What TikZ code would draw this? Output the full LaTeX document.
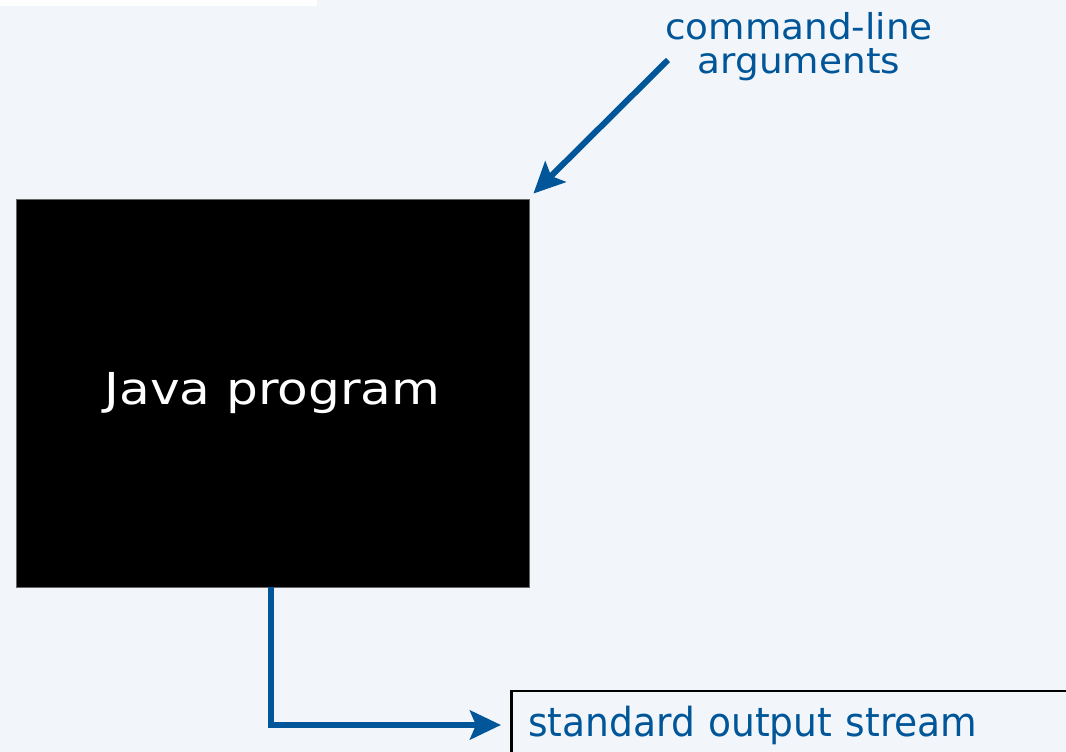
\documentclass[tikz,border=0pt]{standalone}
\usepackage{fontspec}
\usetikzlibrary{arrows.meta,positioning}
\newfontfamily\fjava[FakeStretch=1.14]{DejaVu Sans}
\newfontfamily\fargs[FakeStretch=1.05]{DejaVu Sans}
\newfontfamily\fout[FakeStretch=0.94]{DejaVu Sans}
\definecolor{bgc}{RGB}{242,246,250}
\definecolor{bluec}{RGB}{0,86,152}
\tikzset{
  arr/.style={draw=bluec, line width=6pt, -{Stealth[length=31pt,width=29pt,inset=6pt]}},
  progbox/.style={rectangle, fill=black, draw=black!60, line width=0.8pt,
    minimum width=513pt, minimum height=388pt, inner sep=0pt, text=white,
    font=\fjava\fontsize{44}{52}\selectfont},
  lbl/.style={inner sep=0pt, text=bluec, align=center,
    font=\fargs\fontsize{35.6}{34}\selectfont},
  outbox/.style={rectangle, draw=black, line width=2.5pt, fill=bgc, anchor=west,
    text width=530pt, align=left, inner xsep=17pt, inner ysep=0pt,
    minimum height=68pt, text=bluec, font=\fout\fontsize{40}{48}\selectfont}
}
\begin{document}
\begin{tikzpicture}[x=1pt,y=-1pt]
\useasboundingbox (0,0) rectangle (1066,752);
\clip (0,0) rectangle (1066,752);
\fill[bgc] (0,0) rectangle (1066,752);
\fill[white] (0,0) rectangle (317,6);
\node[progbox] (java) at (272.5,393) {Java program};
\node[lbl] (args) at (799,46.7) {command-line\\arguments};
\coordinate (argstart) at (668,60);
\node[outbox] (out) at (510,725) {standard output stream};
\draw[arr] (argstart) -- ([shift={(4,-5)}]java.north east);
\draw[arr, shorten >=9pt] ([xshift=-1.5pt]java.south) |- (out.west);
\end{tikzpicture}
\end{document}
